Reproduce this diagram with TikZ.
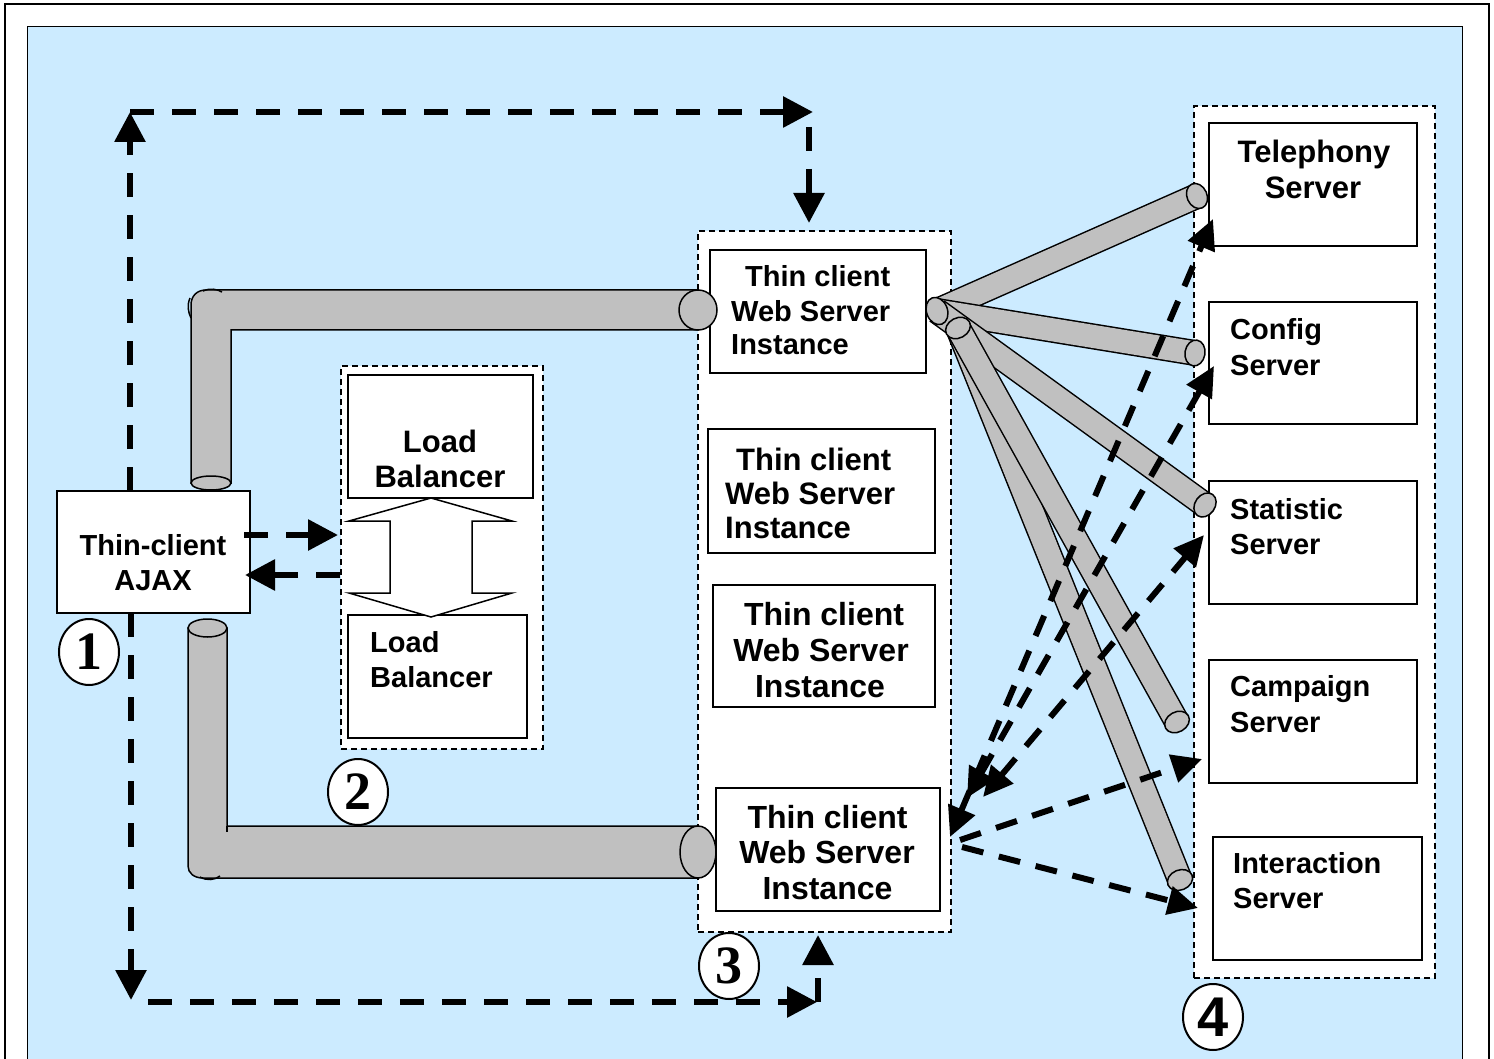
\documentclass[tikz,border=0pt]{standalone}
\usepackage{fontspec}
\setmainfont{Liberation Sans}
\newfontfamily\numserif{Liberation Serif}
\usetikzlibrary{arrows.meta,shapes.geometric}
\definecolor{bgblue}{HTML}{CCEBFF}
\definecolor{pipegray}{HTML}{C0C0C0}
\newcommand\pipeseg[4]{%
  \draw[line width=26pt] (#1) -- (#2);
  \draw[line width=23pt, pipegray] (#1) -- (#2);
  \node[pcap, rotate=#3] (#4) at (#2) {};}
\begin{document}
\begin{tikzpicture}[x=1pt,y=-1pt,
  box/.style={draw, line width=1.8pt, fill=white, anchor=north west, inner sep=0pt, outer sep=0pt},
  cont/.style={draw, line width=1.5pt, dash pattern=on 6pt off 4pt, fill=white, anchor=north west, inner sep=0pt, outer sep=0pt},
  lbl/.style={inner sep=0pt, font=\bfseries\fontsize{#1}{#1}\selectfont},
  dar/.style={line width=6pt, dash pattern=on 24pt off 18pt, -{Triangle[length=30pt,width=30pt]}},
  far/.style={line width=6pt, dash pattern=on 22pt off 16pt, -{Triangle[length=30pt,width=28pt]}},
  ddar/.style={line width=6pt, dash pattern=on 22pt off 16pt, {Triangle[length=30pt,width=28pt]}-{Triangle[length=30pt,width=28pt]}},
  pcap/.style={ellipse, draw, line width=1.5pt, fill=pipegray, minimum width=20pt, minimum height=26pt, inner sep=0pt},
  pipe/.style={draw, line width=1.5pt, fill=pipegray},
  numc/.style={ellipse, draw, line width=2pt, fill=white, minimum width=60pt, minimum height=66pt, inner sep=0pt}
]
\useasboundingbox (0,0) rectangle (1494,1059);
\clip (0,0) rectangle (1494,1059);
\fill[white] (0,0) rectangle (1494,1059);
\draw[line width=2pt] (4.5,4.5) rectangle (1489,1080);
\draw[line width=1.5pt, fill=bgblue] (27.5,26.5) rectangle (1462.5,1080);

% dashed containers
\node[cont, minimum width=202pt, minimum height=383pt] (lbc) at (341,366) {};
\node[cont, minimum width=253pt, minimum height=701pt] (wsc) at (698,231) {};
\node[cont, minimum width=241pt, minimum height=872pt] (svc) at (1194,106) {};

% boxes
\node[box, minimum width=193pt, minimum height=122pt] (ajax) at (57,491) {};
\node[box, minimum width=185pt, minimum height=123pt] (lb1) at (348,375) {};
\node[box, minimum width=179pt, minimum height=123pt] (lb2) at (348,615) {};
\node[box, minimum width=216pt, minimum height=123pt] (ws1) at (710,250) {};
\node[box, minimum width=227pt, minimum height=124pt] (ws2) at (708,429) {};
\node[box, minimum width=222pt, minimum height=122pt] (ws3) at (713,585) {};
\node[box, minimum width=224pt, minimum height=123pt] (ws4) at (716,788) {};
\node[box, minimum width=208pt, minimum height=123pt] (tel) at (1209,123) {};
\node[box, minimum width=208pt, minimum height=122pt] (cfg) at (1209,302) {};
\node[box, minimum width=208pt, minimum height=123pt] (stat) at (1209,481) {};
\node[box, minimum width=208pt, minimum height=123pt] (camp) at (1209,660) {};
\node[box, minimum width=209pt, minimum height=123pt] (inter) at (1213,837) {};

% texts
\node[lbl=29, anchor=base] (ajaxa) at (153,555) {Thin-client};
\node[lbl=29, anchor=base] (ajaxb) at (153,590) {AJAX};
\node[lbl=31, anchor=base] (lb1a) at (440,452) {Load};
\node[lbl=31, anchor=base] (lb1b) at (440,487) {Balancer};
\node[lbl=29, anchor=base west] (lb2a) at (370,652) {Load};
\node[lbl=29, anchor=base west] (lb2b) at (370,687) {Balancer};
\node[lbl=29, anchor=base west] (ws1a) at (745,287) {Thin client};
\node[lbl=29, anchor=base west] (ws1b) at (731,322) {Web Server};
\node[lbl=29, anchor=base west] (ws1c) at (731,354) {Instance};
\node[lbl=31, anchor=base west] (ws2a) at (736,470) {Thin client};
\node[lbl=31, anchor=base west] (ws2b) at (725,504) {Web Server};
\node[lbl=31, anchor=base west] (ws2c) at (725,538) {Instance};
\node[lbl=32, anchor=base] (ws3a) at (824,625) {Thin client};
\node[lbl=32, anchor=base] (ws3b) at (821,661) {Web Server};
\node[lbl=32, anchor=base] (ws3c) at (820,697) {Instance};
\node[lbl=32, anchor=base] (ws4a) at (827.5,828) {Thin client};
\node[lbl=32, anchor=base] (ws4b) at (827,863) {Web Server};
\node[lbl=32, anchor=base] (ws4c) at (827.5,899) {Instance};
\node[lbl=31, anchor=base] (tela) at (1314,163) {Telephony};
\node[lbl=31, anchor=base] (telb) at (1313,199) {Server};
\node[lbl=29, anchor=base west] (cfga) at (1230,340) {Config};
\node[lbl=29, anchor=base west] (cfgb) at (1230,375) {Server};
\node[lbl=29, anchor=base west] (stata) at (1230,519) {Statistic};
\node[lbl=29, anchor=base west] (statb) at (1230,554) {Server};
\node[lbl=29, anchor=base west] (campa) at (1230,696) {Campaign};
\node[lbl=29, anchor=base west] (campb) at (1230,732) {Server};
\node[lbl=29, anchor=base west] (intera) at (1233,873) {Interaction};
\node[lbl=29, anchor=base west] (interb) at (1233,908) {Server};

% block double arrow between load balancers
\draw[line width=1.5pt, fill=white] (431,498) -- (512,521) -- (472,521) -- (472,593) -- (512,593)
  -- (431,617) -- (349,593) -- (390,593) -- (390,521) -- (349,521) -- cycle;

% L-shaped pipes
\path[pipe] (191,483) -- (191,305) .. controls (191,296) and (197,290) .. (206,290) -- (698,290)
  -- (698,330) -- (231,330) -- (231,483) -- cycle;
\draw[line width=1.5pt] (190,298) .. controls (187,305) and (188,312) .. (191,318);
\draw[line width=1.5pt] (203,291) .. controls (210,288) and (217,289) .. (222,292);
\draw[line width=1.5pt, fill=pipegray] (211,483) ellipse [x radius=20pt, y radius=7pt];
\draw[line width=1.5pt, fill=pipegray] (698,310) ellipse [x radius=19pt, y radius=20pt];

\path[pipe] (188,628) -- (188,866) .. controls (188,873) and (194,878) .. (203,878) -- (698,878)
  -- (698,826) -- (227,826) -- (227,628) -- cycle;
\draw[line width=1.5pt] (227,826) -- (227,832);
\draw[line width=1.5pt] (200,877) .. controls (207,881) and (215,880) .. (220,876);
\draw[line width=1.5pt, fill=pipegray] (207.5,628) ellipse [x radius=19.5pt, y radius=9pt];
\draw[line width=1.5pt, fill=pipegray] (698,852) ellipse [x radius=18pt, y radius=26pt];

% fan of pipes
\coordinate (hubA) at (937,311);
\coordinate (hubB) at (958,328);
\coordinate (pT) at (1197,196);
\coordinate (pC) at (1195,353);
\coordinate (pS) at (1205,505);
\coordinate (pCa) at (1177,722);
\coordinate (pI) at (1180,880);
\pipeseg{hubA}{pT}{23.9}{capT}
\pipeseg{hubA}{pC}{-9.2}{capC}
\pipeseg{hubA}{pS}{-35.9}{capS}
\node[pcap, minimum width=21pt, minimum height=28pt, rotate=20] (capA) at (hubA) {};
\pipeseg{hubB}{pI}{-68.1}{capI}
\pipeseg{hubB}{pCa}{-60.9}{capCa}
\node[pcap, rotate=-62] (capB) at (hubB) {};

% dashed loop arrows
\coordinate (tl) at (130,112);
\coordinate (tr) at (813,112);
\coordinate (trd) at (809,127);
\coordinate (trdd) at (809,223);
\draw[dar] (tl |- ajax.north) -- (tl);
\draw[dar] (tl) -- (tr);
\draw[dar] (trd) -- (trdd);
\coordinate (bl) at (131,1000);
\coordinate (blh) at (148,1002);
\coordinate (br) at (817,1002);
\coordinate (bru) at (818,1002);
\coordinate (brt) at (818,935);
\draw[dar] (bl |- ajax.south) -- (bl);
\draw[dar] (blh) -- (br);
\draw[dar] (bru) -- (brt);

% AJAX <-> load balancer
\coordinate (ar1) at (244,535);
\coordinate (ar2) at (338,535);
\coordinate (al1) at (340,575);
\coordinate (al2) at (245,575);
\draw[dar] (ar1) -- (ar2);
\draw[dar] (al1) -- (al2);

% fan dashed arrows
\coordinate (aT1) at (950,837);  \coordinate (aT2) at (1213,219);
\coordinate (aC1) at (967,798);  \coordinate (aC2) at (1214,366);
\coordinate (aS1) at (983,797);  \coordinate (aS2) at (1204,535);
\coordinate (aCa1) at (960,840); \coordinate (aCa2) at (1202,759);
\coordinate (aI1) at (962,847);  \coordinate (aI2) at (1198,908);
\draw[ddar] (aT1) -- (aT2);
\draw[ddar] (aC1) -- (aC2);
\draw[ddar] (aS1) -- (aS2);
\draw[far] (aCa1) -- (aCa2);
\draw[far] (aI1) -- (aI2);

% numbered circles
\node[numc, font=\numserif\bfseries\fontsize{54}{54}\selectfont] (n1) at (89,652) {1};
\node[numc, font=\numserif\bfseries\fontsize{54}{54}\selectfont] (n2) at (358,792) {2};
\node[numc, font=\numserif\bfseries\fontsize{54}{54}\selectfont] (n3) at (729,966) {3};
\node[numc, font=\bfseries\fontsize{56}{56}\selectfont] (n4) at (1213,1017) {4};
\end{tikzpicture}
\end{document}
